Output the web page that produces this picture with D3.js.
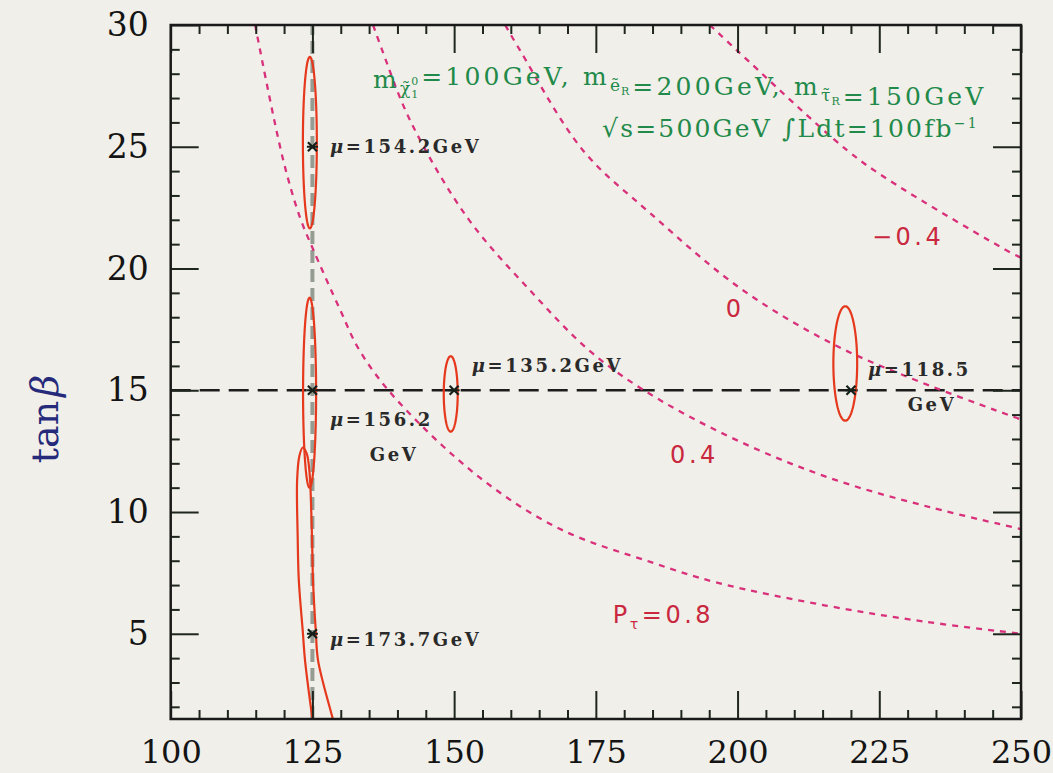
<!DOCTYPE html>
<html>
<head>
<meta charset="utf-8">
<script src="https://cdn.jsdelivr.net/npm/d3@7"></script>
<style>
  html, body { margin: 0; padding: 0; background: #f0efe9; }
  svg { display: block; }
</style>
</head>
<body>
<svg id="chart" width="1053" height="773"></svg>
<script>
// ---- axis ticks ----
const xMajorTicks = [100, 125, 150, 175, 200, 225, 250];
const xMinorTicks = d3.range(105, 250, 5).filter(v => v % 25 !== 0);
const yMajorTicks = [5, 10, 15, 20, 25, 30];
const yMinorTicks = d3.range(2, 30, 1).filter(v => v % 5 !== 0);

// ---- tau polarization contours: [m_stau_L (GeV), tan beta] ----
const polLabels = ["P\u03c4=0.8", "0.4", "0", "\u22120.4"];
const pol08 = [[114.9, 30], [119.8, 24.5], [122.8, 22.1], [125.1, 20.8], [129.9, 18.3], [133.4, 16.6],
               [139.9, 14.6], [154.6, 11.4], [168.7, 9.3], [184.6, 7.95], [196.4, 7.1], [215.8, 6.15],
               [233.0, 5.5], [250.0, 5.0]];
const pol04 = [[135.7, 30], [137.3, 28.97], [142.2, 26.1], [152.3, 22.1], [163.4, 19.1], [174.5, 16.5],
               [186.3, 14.6], [202.2, 12.7], [217.5, 11.3], [233.9, 10.2], [250.0, 9.3]];
const pol00 = [[159.0, 30], [161.6, 28.97], [172.7, 24.86], [184.6, 22.27], [200.4, 19.2],
               [216.8, 16.9], [231.6, 15.4], [250.0, 13.8]];
const polM04 = [[195.1, 30], [199.7, 29.0], [219.3, 24.86], [226.9, 23.6], [248.6, 20.6], [250.0, 20.45]];

// ---- benchmark points and the fitted mu values ----
const pointMass    = [125, 125, 125, 150, 220];
const pointTanBeta = [25, 15, 5, 15, 15];
const pointMu      = ["154.2", "156.2", "173.7", "135.2", "118.5"];

// ---- 1-sigma error ellipses (centre and half-widths) ----
const ellMass     = [124.55, 124.5, 149.4, 219.0];
const ellTanBeta  = [25.17, 14.9, 14.85, 16.1];
const ellHalfMass = [1.23, 1.15, 1.23, 2.1];
const ellHalfTan  = [3.52, 3.9, 1.55, 2.35];

// open contour around the tan beta = 5 point (runs below the frame)
const lowTanContour = [[125.6, 0.5], [125.0, 1.5], [123.7, 3.9], [123.3, 5.1], [122.6, 7.2], [122.4, 9.0],
                       [122.3, 11.3], [122.7, 12.3], [123.3, 12.65], [124.0, 12.4], [124.5, 11.6],
                       [124.8, 10.0], [125.0, 8.2], [125.1, 7.2], [125.6, 5.1], [126.0, 3.9],
                       [128.6, 1.5], [129.7, 0.5]];

// ---- layout ----
const svg = d3.select("#chart");
const W = 1053, H = 773;
const x = d3.scaleLinear().domain([100, 250]).range([170.7, 1021]);
const y = d3.scaleLinear().domain([1.5, 30]).range([719, 25]);
const [x0, x1] = x.range();
const [y0, y1] = y.range();

const serif = "'DejaVu Serif', 'Liberation Serif', serif";
const sans = "'DejaVu Sans', 'Liberation Sans', sans-serif";
const pink = "#d9307c";
const labelRed = "#c9283e";
const green = "#1f8a4a";

svg.append("rect").attr("width", W).attr("height", H).attr("fill", "#f0efe9");

svg.append("defs").append("clipPath").attr("id", "plotClip")
  .append("rect").attr("x", x0).attr("y", y1).attr("width", x1 - x0).attr("height", y0 - y1);

const plot = svg.append("g").attr("clip-path", "url(#plotClip)");
const line = d3.line().x(d => x(d[0])).y(d => y(d[1]));

// reference lines at m = 125 GeV and tan beta = 15
plot.append("line")
  .attr("x1", x(125)).attr("x2", x(125)).attr("y1", y0).attr("y2", y1)
  .attr("stroke", "#959c92").attr("stroke-width", 4).attr("stroke-dasharray", "13,6");
plot.append("line")
  .attr("x1", x0).attr("x2", x1).attr("y1", y(15)).attr("y2", y(15))
  .attr("stroke", "#1c1c1c").attr("stroke-width", 2.5).attr("stroke-dasharray", "20,9");

// polarization contours
[pol08, pol04, pol00, polM04].forEach(c => {
  plot.append("path")
    .attr("d", line.curve(d3.curveCatmullRom.alpha(0.5))(c))
    .attr("fill", "none").attr("stroke", pink).attr("stroke-width", 2.3)
    .attr("stroke-dasharray", "6,6");
});

// error ellipses
const angles = d3.range(0, 360, 3).map(a => a * Math.PI / 180);
ellMass.forEach((m, i) => {
  const pts = angles.map(a => [m + ellHalfMass[i] * Math.cos(a), ellTanBeta[i] + ellHalfTan[i] * Math.sin(a)]);
  plot.append("path")
    .attr("d", d3.line().x(d => x(d[0])).y(d => y(d[1])).curve(d3.curveLinearClosed)(pts))
    .attr("fill", "none").attr("stroke", "#e5381c").attr("stroke-width", 2.2);
});
plot.append("path")
  .attr("d", d3.line().x(d => x(d[0])).y(d => y(d[1])).curve(d3.curveCatmullRom.alpha(0.5))(lowTanContour))
  .attr("fill", "none").attr("stroke", "#e5381c").attr("stroke-width", 2.2);

// benchmark markers
pointMass.forEach((m, i) => {
  const px = x(m), py = y(pointTanBeta[i]), s = 4.5;
  plot.append("path")
    .attr("d", `M${px - s},${py - s}L${px + s},${py + s}M${px - s},${py + s}L${px + s},${py - s}M${px - s - 1},${py}L${px + s + 1},${py}`)
    .attr("stroke", "#16201a").attr("stroke-width", 2.2);
});

// ---- axes: inward ticks on all four sides ----
function drawAxis(gen, translate, values, size, withLabels, padding, fontSize) {
  const g = svg.append("g").attr("transform", translate)
    .call(gen.tickValues(values).tickSize(size).tickSizeOuter(0).tickPadding(padding || 3)
      .tickFormat(withLabels ? d3.format("d") : () => ""));
  g.select(".domain").remove();
  g.selectAll(".tick line").attr("stroke", "#1e261e").attr("stroke-width", 2);
  g.attr("font-family", serif).attr("font-size", fontSize || 32);
  g.selectAll(".tick text").attr("fill", "#141414");
  return g;
}
drawAxis(d3.axisBottom(x), `translate(0,${y0})`, xMajorTicks, -28, true, 21, 32);
drawAxis(d3.axisBottom(x), `translate(0,${y0})`, xMinorTicks, -9, false);
drawAxis(d3.axisTop(x), `translate(0,${y1})`, xMajorTicks, -28, false);
drawAxis(d3.axisTop(x), `translate(0,${y1})`, xMinorTicks, -9, false);
drawAxis(d3.axisLeft(y), `translate(${x0},0)`, yMajorTicks, -28, true, 22, 33);
drawAxis(d3.axisLeft(y), `translate(${x0},0)`, yMinorTicks, -9, false);
drawAxis(d3.axisRight(y), `translate(${x1},0)`, yMajorTicks, -28, false);
drawAxis(d3.axisRight(y), `translate(${x1},0)`, yMinorTicks, -9, false);

svg.append("rect")
  .attr("x", x0).attr("y", y1).attr("width", x1 - x0).attr("height", y0 - y1)
  .attr("fill", "none").attr("stroke", "#1a1a1a").attr("stroke-width", 2.5);

// y-axis title
const yTitle = svg.append("text")
  .attr("transform", `translate(58,${(y0 + y1) / 2 + 47}) rotate(-90)`)
  .attr("text-anchor", "middle").attr("fill", "#262a7a")
  .attr("font-family", serif).attr("font-size", 38);
yTitle.append("tspan").text("tan");
yTitle.append("tspan").attr("dx", 4).attr("font-style", "italic").text("\u03b2");

// ---- mu labels ----
const muText = (m, t) => svg.append("text")
  .attr("x", x(m)).attr("y", y(t))
  .attr("font-family", serif).attr("font-size", 18).attr("font-weight", "bold")
  .attr("letter-spacing", 2.6).attr("fill", "#2a2a2a");
function muLabel(m, t, idx, withUnit) {
  const tx = muText(m, t);
  tx.append("tspan").attr("font-style", "italic").text("\u03bc");
  tx.append("tspan").text("=" + pointMu[idx] + (withUnit ? "GeV" : ""));
}
muLabel(128.1, 24.74, 0, true);
muLabel(128.1, 13.55, 1, false);
muText(135.1, 12.11).text("GeV");
muLabel(128.1, 4.51, 2, true);
muLabel(153.1, 15.73, 3, true);
muLabel(223.0, 15.57, 4, false);
muText(230.0, 14.13).text("GeV");

// ---- polarization labels ----
const polText = (m, t) => svg.append("text")
  .attr("x", x(m)).attr("y", y(t))
  .attr("font-family", sans).attr("font-size", 24).attr("letter-spacing", 3.5).attr("fill", labelRed);
const p08 = polText(178.0, 5.45);
p08.append("tspan").text("P");
p08.append("tspan").attr("font-size", 14).attr("dy", 6).attr("dx", -1).text("\u03c4");
p08.append("tspan").attr("dy", -6).text("=0.8");
polText(188.1, 12.0).text(polLabels[1]);
polText(197.9, 18.0).text(polLabels[2]);
polText(223.7, 20.95).text(polLabels[3]);

// ---- parameter box text ----
const info1 = svg.append("text").attr("x", 373).attr("y", 88)
  .attr("font-family", serif).attr("font-size", 25).attr("letter-spacing", 3.2).attr("fill", green);
function sub(sel, main, idx, supText) {
  sel.append("tspan").text("m");
  sel.append("tspan").attr("font-size", 17).attr("dy", 6).attr("letter-spacing", 1).text(main);
  sel.append("tspan").attr("font-size", 11).attr("dy", 4).attr("letter-spacing", 0).text(idx);
  if (supText) {
    sel.append("tspan").attr("font-size", 11).attr("dx", -7).attr("dy", -13).attr("letter-spacing", 0).text(supText);
    sel.append("tspan").attr("dy", 3);
  } else {
    sel.append("tspan").attr("dy", -10);
  }
}
sub(info1, "\u03c7\u0303", "1", "0");
info1.append("tspan").attr("dx", 3).text("=100GeV, ");
sub(info1, "e\u0303", "R");
info1.append("tspan").attr("dx", 3).text("=200GeV, ");
sub(info1, "\u03c4\u0303", "R");
info1.append("tspan").attr("dx", 3).text("=150GeV");

const info2 = svg.append("text").attr("x", 602).attr("y", 137)
  .attr("font-family", serif).attr("font-size", 25).attr("letter-spacing", 2.2).attr("fill", green);
info2.append("tspan").text("\u221as=500GeV \u222bLdt=100fb");
info2.append("tspan").attr("font-size", 14).attr("dy", -9).text("\u22121");
</script>
</body>
</html>
